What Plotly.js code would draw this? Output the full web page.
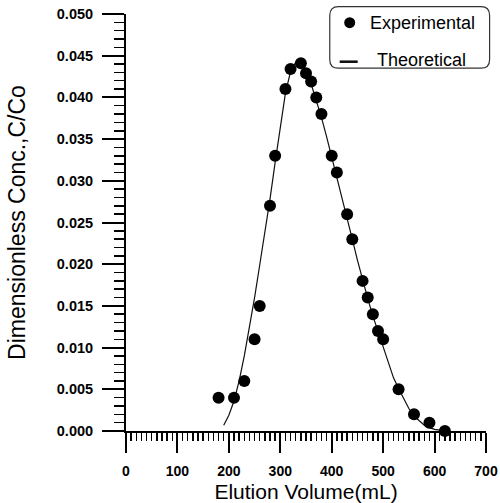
<!DOCTYPE html>
<html>
<head>
<meta charset="utf-8">
<script src="https://cdn.plot.ly/plotly-3.0.1.min.js"></script>
<style>html,body{margin:0;padding:0;background:#fff;}#chart{width:500px;height:503px;}</style>
</head>
<body>
<div id="chart"></div>
<script>
const expVolume = [180, 210, 230, 250, 260, 280, 290, 310, 320, 340, 350, 360, 370, 380, 400, 410, 430, 440, 460, 470, 480, 490, 500, 530, 560, 590, 620];
const expConc   = [0.0040, 0.0040, 0.0060, 0.0110, 0.0150, 0.0270, 0.0330, 0.0410, 0.0434, 0.0441, 0.0429, 0.0419, 0.0400, 0.0380, 0.0330, 0.0310, 0.0260, 0.0230, 0.0180, 0.0160, 0.0140, 0.0120, 0.0110, 0.0050, 0.0020, 0.0010, 0.0000];

// Theoretical curve
const theoVolume = [190, 200, 210, 220, 230, 240, 250, 260, 270, 280, 290, 300, 310, 320, 330, 340, 350, 360, 370, 380, 390, 400, 410, 420, 430, 440, 450, 460, 470, 480, 490, 500, 510, 520, 530, 540, 550, 560, 570, 580, 590, 600, 610];
const theoConc   = [0.0007, 0.0019, 0.0036, 0.0060, 0.0090, 0.0124, 0.0160, 0.0199, 0.0238, 0.0278, 0.0322, 0.0366, 0.0405, 0.0431, 0.0442, 0.0442, 0.0432, 0.0416, 0.0397, 0.0376, 0.0353, 0.0329, 0.0305, 0.0280, 0.0255, 0.0230, 0.0205, 0.0181, 0.0159, 0.0138, 0.0119, 0.0102, 0.0083, 0.0064, 0.0051, 0.0038, 0.0027, 0.0018, 0.0012, 0.0007, 0.0004, 0.0002, 0.0001];

const seriesNames = ['Experimental', 'Theoretical'];
const xTitle = 'Elution Volume(mL)';
const yTitle = 'Dimensionless Conc.,C/Co';

const FONT = 'Liberation Sans, Arial, Helvetica, sans-serif';

const traces = [
  {
    x: theoVolume, y: theoConc, type: 'scatter', mode: 'lines',
    name: seriesNames[1], showlegend: false,
    line: {color: '#111', width: 1.2},
    cliponaxis: false
  },
  {
    x: expVolume, y: expConc, type: 'scatter', mode: 'markers',
    name: seriesNames[0], showlegend: false,
    marker: {color: '#000', size: 12, line: {width: 0}},
    cliponaxis: false
  }
];

// key (legend) drawn in paper coordinates, with a rounded frame as in the original
const lx0 = 0.566, lx1 = 1.010, ly0 = 0.870, ly1 = 1.0175, rx = 0.024, ry = 0.021;
const framePath = `M ${lx0+rx},${ly1} L ${lx1-rx},${ly1} Q ${lx1},${ly1} ${lx1},${ly1-ry} L ${lx1},${ly0+ry} Q ${lx1},${ly0} ${lx1-rx},${ly0} L ${lx0+rx},${ly0} Q ${lx0},${ly0} ${lx0},${ly0+ry} L ${lx0},${ly1-ry} Q ${lx0},${ly1} ${lx0+rx},${ly1} Z`;

const layout = {
  width: 500, height: 503,
  margin: {l: 126, r: 13.5, t: 14, b: 72, pad: 0},
  paper_bgcolor: '#fff', plot_bgcolor: '#fff',
  font: {family: FONT, color: '#000'},
  showlegend: false,
  xaxis: {
    range: [0, 700], autorange: false,
    showgrid: false, zeroline: false,
    showline: true, linecolor: '#000', linewidth: 2,
    ticks: 'outside', ticklen: 20, tickwidth: 2, tickcolor: '#000',
    dtick: 100, tick0: 0,
    ticklabelstandoff: 6,
    tickfont: {family: FONT, size: 14, color: '#000', weight: 'bold'},
    minor: {ticks: 'outside', dtick: 10, ticklen: 8, tickwidth: 1.5, tickcolor: '#000', showgrid: false},
    title: {text: xTitle, font: {family: FONT, size: 21, color: '#000'}, standoff: 8},
    automargin: false
  },
  yaxis: {
    range: [0, 0.05], autorange: false,
    showgrid: false, zeroline: false,
    showline: true, linecolor: '#000', linewidth: 2,
    ticks: 'outside', ticklen: 22, tickwidth: 2, tickcolor: '#000',
    dtick: 0.005, tick0: 0, tickformat: '.3f',
    ticklabelstandoff: 6,
    tickfont: {family: FONT, size: 14.5, color: '#000', weight: 'bold'},
    minor: {ticks: 'outside', dtick: 0.001, ticklen: 10, tickwidth: 1.5, tickcolor: '#000', showgrid: false},
    title: {text: yTitle, font: {family: FONT, size: 23, color: '#000'}, standoff: 25},
    automargin: false
  },
  shapes: [
    {type: 'path', xref: 'paper', yref: 'paper', path: framePath,
     line: {color: '#333', width: 1.2}, fillcolor: 'rgba(0,0,0,0)', layer: 'above'},
    {type: 'circle', xref: 'paper', yref: 'paper', x0: 0.6061, x1: 0.6366, y0: 0.9659, y1: 0.9923,
     fillcolor: '#000', line: {color: '#000', width: 0}},
    {type: 'line', xref: 'paper', yref: 'paper', x0: 0.5936, x1: 0.6436, y0: 0.8856, y1: 0.8856,
     line: {color: '#111', width: 2.6}}
  ],
  annotations: [
    {text: seriesNames[0], xref: 'paper', yref: 'paper', x: 0.6713, y: 0.9796,
     xanchor: 'left', yanchor: 'middle', showarrow: false,
     font: {family: FONT, size: 18, color: '#000'}},
    {text: seriesNames[1], xref: 'paper', yref: 'paper', x: 0.6907, y: 0.8885,
     xanchor: 'left', yanchor: 'middle', showarrow: false,
     font: {family: FONT, size: 18, color: '#000'}}
  ]
};

Plotly.newPlot('chart', traces, layout, {displayModeBar: false, staticPlot: true});
</script>
</body>
</html>
